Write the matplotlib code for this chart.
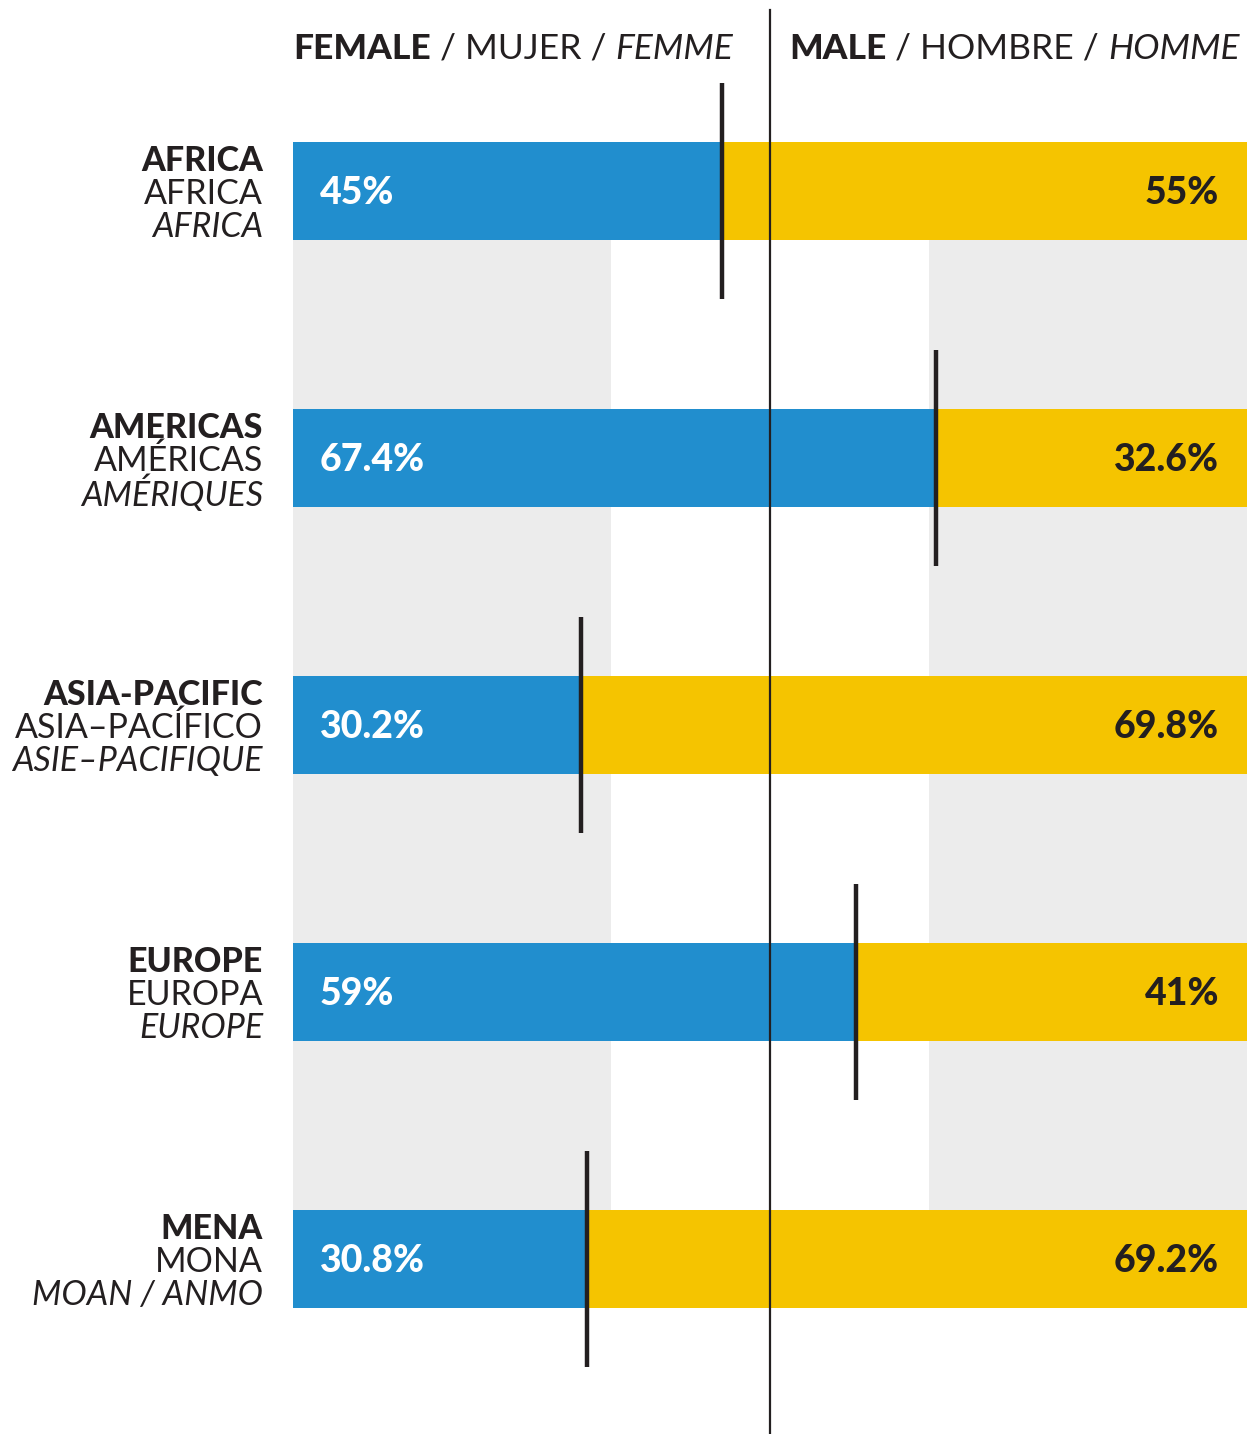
import matplotlib
matplotlib.use("Agg")
import matplotlib.pyplot as plt

# Data
regions_en = ["AFRICA", "AMERICAS", "ASIA-PACIFIC", "EUROPE", "MENA"]
regions_es = ["AFRICA", "AMÉRICAS", "ASIA–PACÍFICO", "EUROPA", "MONA"]
regions_fr = ["AFRICA", "AMÉRIQUES", "ASIE–PACIFIQUE", "EUROPE", "MOAN / ANMO"]
female = [45, 67.4, 30.2, 59, 30.8]
male = [55, 32.6, 69.8, 41, 69.2]
female_lbl = ["45%", "67.4%", "30.2%", "59%", "30.8%"]
male_lbl = ["55%", "32.6%", "69.8%", "41%", "69.2%"]

BLUE = "#218ECE"
YELLOW = "#F5C400"
GRAY = "#ECECEC"
DARK = "#231F20"

plt.rcParams['font.family'] = ['Lato', 'DejaVu Sans']

fig = plt.figure(figsize=(12.56, 14.34), dpi=100)
ax = fig.add_axes([293 / 1256, 0, 954 / 1256, 1])
ax.set_xlim(0, 100)
ax.set_ylim(4.655, -0.715)
ax.axis("off")

n = len(female)
bar_h = 0.367
ys = list(range(n))

# gray background columns
ax.bar([100 / 6, 100 - 100 / 6], [n - 1 + bar_h, n - 1 + bar_h], width=100 / 3,
       bottom=-bar_h / 2, color=GRAY, zorder=0)

# stacked bars
ax.barh(ys, female, height=bar_h, color=BLUE, zorder=2)
ax.barh(ys, male, left=female, height=bar_h, color=YELLOW, zorder=2)

# center line and marker lines
ax.axvline(50, ymin=0, ymax=1 - 10 / 1434, color=DARK, lw=1.6, zorder=4)
ax.vlines(female, [y - 0.404 for y in ys], [y + 0.404 for y in ys],
          color=DARK, lw=3.2, zorder=5)

# value labels
for y, fl, ml in zip(ys, female_lbl, male_lbl):
    ax.text(2.83, y + 0.008, fl, color="white", fontsize=27, fontweight="black",
            va="center", ha="left", zorder=6)
    ax.text(97.06, y + 0.008, ml, color=DARK, fontsize=27, fontweight="black",
            va="center", ha="right", zorder=6)

# region labels
dy = 33 / 267
for y, en, es, fr in zip(ys, regions_en, regions_es, regions_fr):
    y = y + 0.01
    ax.text(-3.14, y - dy, en, fontsize=24.5, fontweight="black", color=DARK,
            ha="right", va="center", clip_on=False)
    ax.text(-3.14, y, es, fontsize=24.5, fontweight="normal", color=DARK,
            ha="right", va="center", clip_on=False)
    ax.text(-3.14, y + dy, fr, fontsize=24.5, fontweight="normal", style="italic",
            color=DARK, ha="right", va="center", clip_on=False)


# header
def header(x, parts):
    prev = None
    for txt, kw in parts:
        if prev is None:
            prev = ax.text(x, -0.495, txt, fontsize=25.5, color=DARK, ha="left",
                           va="baseline", **kw)
        else:
            prev = ax.annotate(txt, xy=(1, 0), xycoords=prev, fontsize=25.5,
                               color=DARK, ha="left", va="bottom", **kw)


header(0, [("FEMALE", dict(fontweight="black")),
           (" / MUJER / ", dict(fontweight="normal")),
           ("FEMME", dict(fontweight="normal", style="italic"))])
header(52, [("MALE", dict(fontweight="black")),
            (" / HOMBRE / ", dict(fontweight="normal")),
            ("HOMME", dict(fontweight="normal", style="italic"))])

plt.savefig("out.png", dpi=100)
